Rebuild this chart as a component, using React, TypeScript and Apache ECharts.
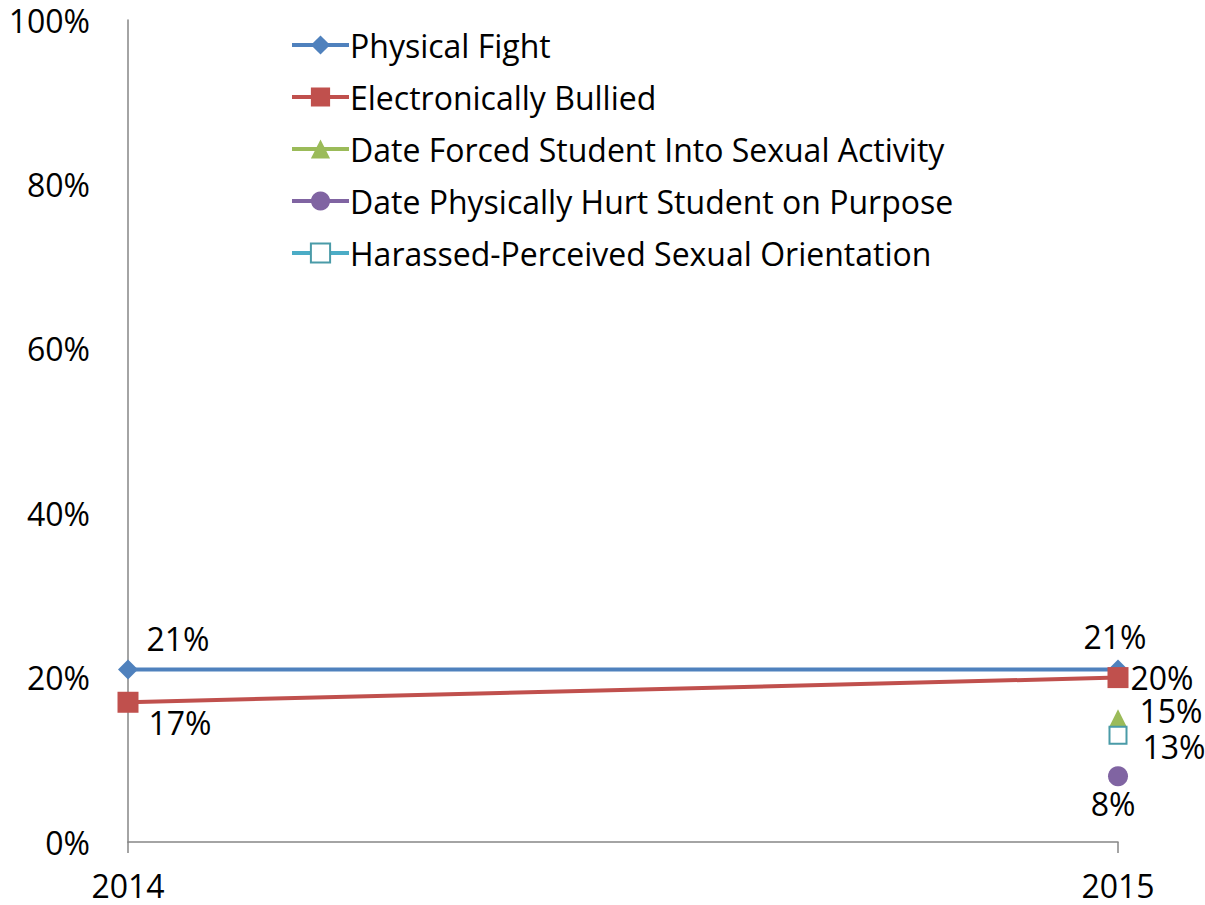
import React, { useEffect, useRef } from "react";
import * as echarts from "echarts";

const years = ["2014", "2015"];
const physicalFight = [21, 21];
const electronicallyBullied = [17, 20];
const dateForced = [null, 15];
const dateHurt = [null, 8];
const harassed = [null, 13];
const yTicks = [0, 20, 40, 60, 80, 100];

const FONT = "'Open Sans', sans-serif";
const FS = 32;

export default function App() {
  const ref = useRef<HTMLDivElement>(null);
  useEffect(() => {
    if (!ref.current) return;
    const chart = echarts.init(ref.current, null, { renderer: "svg" });
    const lbl = (extra: any) => ({
      show: true,
      color: "#000",
      fontFamily: FONT,
      fontSize: FS,
      lineHeight: 32,
      formatter: (p: any) => p.value + "%",
      ...extra,
    });
    const mk = (vals: (number | null)[], labels: any[]) =>
      vals.map((v, i) => (v == null ? null : { value: v, label: labels[i] }));
    chart.setOption({
      animation: false,
      textStyle: { fontFamily: FONT },
      grid: { left: 128, right: 87, top: 20, bottom: 63 },
      legend: {
        orient: "vertical",
        left: 285,
        top: 24,
        itemWidth: 57,
        itemHeight: 24,
        itemGap: 20,
        lineStyle: { width: 4 },
        textStyle: { fontFamily: FONT, fontSize: FS, color: "#000", lineHeight: 32, padding: [0, 0, 0, -4] },
        data: [
          "Physical Fight",
          "Electronically Bullied",
          "Date Forced Student Into Sexual Activity",
          "Date Physically Hurt Student on Purpose",
          "Harassed-Perceived Sexual Orientation",
        ],
      },
      xAxis: {
        type: "category",
        data: years,
        boundaryGap: false,
        axisLine: { lineStyle: { color: "#868686", width: 1.5 } },
        axisTick: { show: true, length: 11, lineStyle: { color: "#868686", width: 1.5 } },
        axisLabel: { color: "#000", fontFamily: FONT, fontSize: FS, margin: 27 },
        splitLine: { show: false },
      },
      yAxis: {
        type: "value",
        min: yTicks[0],
        max: yTicks[yTicks.length - 1],
        interval: 20,
        axisLine: { show: true, lineStyle: { color: "#868686", width: 1.5 } },
        axisTick: { show: false },
        splitLine: { show: false },
        axisLabel: { color: "#000", fontFamily: FONT, fontSize: FS, margin: 38, formatter: "{value}%" },
      },
      series: [
        {
          name: "Physical Fight",
          type: "line",
          data: mk(physicalFight, [
            lbl({ position: "top", offset: [50, 0] }),
            lbl({ position: "top", offset: [-3, -2] }),
          ]),
          symbol: "diamond",
          symbolSize: 20,
          lineStyle: { color: "#4F81BD", width: 4 },
          itemStyle: { color: "#4F81BD" },
          z: 3,
        },
        {
          name: "Electronically Bullied",
          type: "line",
          data: mk(electronicallyBullied, [
            lbl({ position: "bottom", offset: [52, -11] }),
            lbl({ position: "right", offset: [-3, 0] }),
          ]),
          symbol: "rect",
          symbolSize: 21,
          lineStyle: { color: "#C0504D", width: 4 },
          itemStyle: { color: "#C0504D" },
          z: 4,
        },
        {
          name: "Date Forced Student Into Sexual Activity",
          type: "line",
          data: mk(dateForced, [null, lbl({ position: "right", offset: [7, -8] })]),
          symbol: "triangle",
          symbolSize: 19,
          lineStyle: { color: "#9BBB59", width: 4 },
          itemStyle: { color: "#9BBB59" },
        },
        {
          name: "Date Physically Hurt Student on Purpose",
          type: "line",
          data: mk(dateHurt, [null, lbl({ position: "bottom", offset: [-5, -4] })]),
          symbol: "circle",
          symbolSize: 20,
          lineStyle: { color: "#8064A2", width: 4 },
          itemStyle: { color: "#8064A2" },
        },
        {
          name: "Harassed-Perceived Sexual Orientation",
          type: "line",
          data: mk(harassed, [null, lbl({ position: "right", offset: [10, 11] })]),
          symbol: "rect",
          symbolSize: 17,
          lineStyle: { color: "#4BACC6", width: 4 },
          itemStyle: { color: "#fff", borderColor: "#4A9BA8", borderWidth: 2 },
        },
      ],
    });
    return () => chart.dispose();
  }, []);
  return (
    <div
      ref={ref}
      style={{ position: "absolute", left: 0, top: 0, width: 1205, height: 905, background: "#fff" }}
    />
  );
}
